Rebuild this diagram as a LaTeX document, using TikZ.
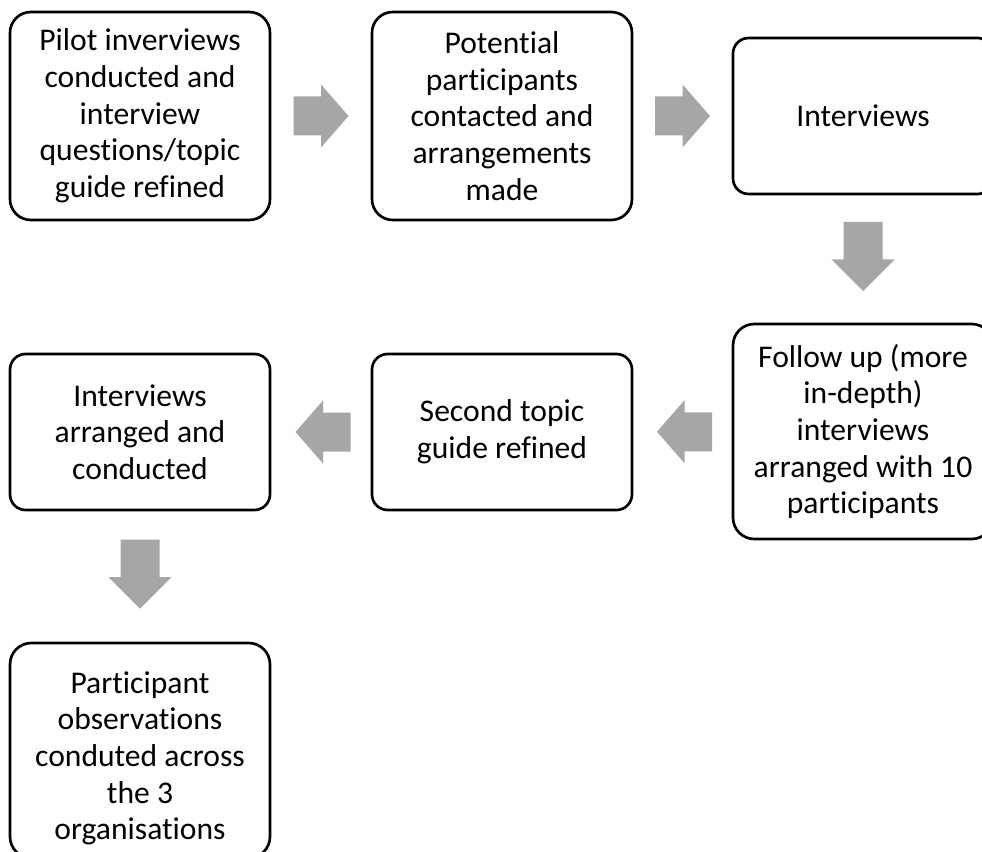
\documentclass[tikz,border=0pt]{standalone}
\usepackage{fontspec}
\setmainfont{Carlito}[Ligatures=NoCommon]
\usetikzlibrary{calc}
\definecolor{arrowgray}{RGB}{166,166,166}
\tikzset{
  steptext/.style={align=center, inner sep=0pt,
    font=\fontsize{23.7}{27.5}\selectfont},
  stepbox/.style={steptext, draw=black, line width=2pt, fill=white,
    minimum width=195pt},
  tallbox/.style={stepbox, minimum height=156pt, rounded corners=15.6pt},
  shortbox/.style={stepbox, minimum height=117pt, rounded corners=11.7pt},
  longbox/.style={stepbox, minimum height=161.25pt, rounded corners=16pt},
  pics/hflow/.style={code={
    \fill[arrowgray] (-27.5,-19.5) -- (0,-19.5) -- (0,-31.5) -- (27.5,0)
      -- (0,31.5) -- (0,19.5) -- (-27.5,19.5) -- cycle;}},
  pics/vflow/.style={code={
    \fill[arrowgray] (-34.5,-19.5) -- (3,-19.5) -- (3,-31.5) -- (34.5,0)
      -- (3,31.5) -- (3,19.5) -- (-34.5,19.5) -- cycle;}},
}
\begin{document}
\begin{tikzpicture}[x=0.75pt, y=-0.75pt]
  \clip (0,0) rectangle (982,852);
  \fill[white] (0,0) rectangle (982,852);

  % first row
  \node[tallbox] (b1) at (140,116)
    {Pilot inverviews\\conducted and\\interview\\questions/topic\\guide refined};
  \node[tallbox] (b2) at (502,116)
    {Potential\\participants\\contacted and\\arrangements\\made};
  \node[shortbox] (b3) at (863,116) {Interviews};

  % second row
  \node[longbox] (b4) at (863,431.5)
    {Follow up (more\\in-depth)\\interviews\\arranged with 10\\participants};
  \node[shortbox] (b5) at (502,432) {Second topic\\guide refined};
  \node[shortbox] (b6) at (140,432) {Interviews\\arranged and\\conducted};

  % last step: its text sits a little below the box centre
  \node[longbox] (b7) at (140,750.5) {};
  \node[steptext] (b7text) at ($(b7.center)+(0,8)$)
    {Participant\\observations\\conduted across\\the 3\\organisations};

  % block arrows between the steps
  \pic at ($(b1.east)!0.5!(b2.west)$) {hflow};
  \pic at ($(b2.east)!0.5!(b3.west)$) {hflow};
  \pic[rotate=-90] at ($(b3.south)!0.5!(b4.north)+(0,-2.5)$) {vflow};
  \pic[rotate=180] at ($(b4.west)!0.5!(b5.east)+(2,0)$) {hflow};
  \pic[rotate=180] at ($(b5.west)!0.5!(b6.east)+(2,0)$) {hflow};
  \pic[rotate=-90] at ($(b6.south)!0.5!(b7.north)+(0,-2.5)$) {vflow};
\end{tikzpicture}
\end{document}
